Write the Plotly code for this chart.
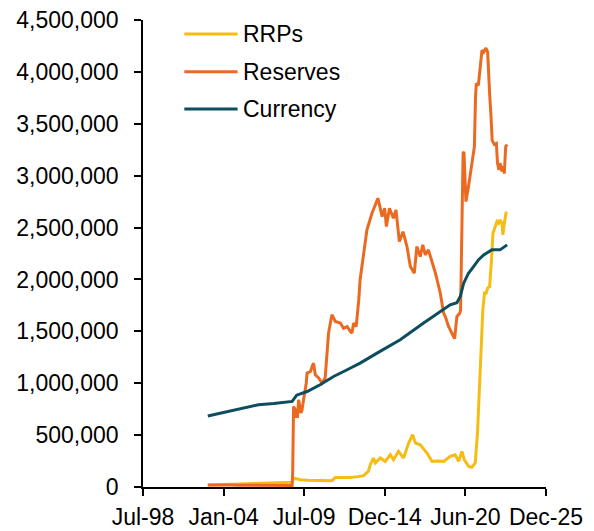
import plotly.graph_objects as go

# ---------------- data (millions of dollars) ----------------
rrp_dates = ["2002-12-18", "2003-06-18", "2004-06-16", "2005-06-15", "2006-06-14", "2007-06-13",
             "2008-06-11", "2008-09-10", "2008-10-15", "2008-12-17", "2009-04-01", "2009-10-07",
             "2010-02-24", "2010-09-15", "2011-05-25", "2011-08-17", "2012-03-07", "2012-08-15",
             "2013-03-06", "2013-07-17", "2013-11-13", "2014-01-01", "2014-03-19", "2014-05-07",
             "2014-09-03", "2015-01-07", "2015-05-13", "2015-07-29", "2015-12-02", "2016-04-06",
             "2016-08-10", "2016-11-16", "2017-01-25", "2017-05-24", "2017-11-08", "2018-03-14",
             "2018-07-11", "2018-12-26", "2019-06-05", "2019-10-09", "2020-01-01", "2020-03-25",
             "2020-05-20", "2020-09-09", "2020-11-25", "2021-02-17", "2021-04-14", "2021-07-14",
             "2021-08-25", "2021-10-06", "2021-11-17", "2021-12-22", "2022-02-09", "2022-03-23",
             "2022-05-04", "2022-06-29", "2022-08-10", "2022-09-21", "2022-10-26", "2022-12-14",
             "2023-01-04", "2023-02-08", "2023-03-29"]
rrp_values = [20000, 22000, 25000, 28000, 30000, 35000,
              42000, 45000, 87000, 80000, 70000, 66000,
              64000, 62000, 61000, 92000, 90000, 92000,
              100000, 109000, 150000, 215000, 279000, 231000,
              279000, 247000, 311000, 263000, 343000, 279000,
              424000, 504000, 424000, 407000, 327000, 247000,
              250000, 247000, 295000, 311000, 247000, 343000,
              263000, 198000, 189000, 231000, 520000, 1320000,
              1710000, 1870000, 1870000, 1920000, 1930000, 2160000,
              2446000, 2510000, 2557000, 2540000, 2574000, 2540000,
              2430000, 2540000, 2654000]

res_dates = ["2002-12-18", "2003-06-18", "2004-01-14", "2004-07-14", "2005-01-12", "2005-07-13",
             "2006-01-11", "2006-07-12", "2007-01-10", "2007-07-11", "2008-01-09", "2008-07-09",
             "2008-09-10", "2008-09-24", "2008-10-15", "2008-11-26", "2008-12-10", "2009-01-21",
             "2009-02-18", "2009-04-15", "2009-05-13", "2009-07-01", "2009-08-26", "2009-09-16",
             "2009-12-09", "2010-02-03", "2010-02-24", "2010-04-07", "2010-06-30", "2010-09-22",
             "2010-12-08", "2011-03-02", "2011-05-25", "2011-08-17", "2011-12-21", "2012-03-07",
             "2012-06-06", "2012-08-22", "2012-10-03", "2012-11-14", "2013-01-16", "2013-03-20",
             "2013-04-24", "2013-10-09", "2014-02-12", "2014-07-09", "2014-10-22", "2014-12-24",
             "2015-02-04", "2015-04-22", "2015-07-29", "2015-09-30", "2015-12-23", "2016-03-23",
             "2016-06-29", "2016-09-21", "2016-12-28", "2017-03-01", "2017-05-24", "2017-07-26",
             "2017-09-27", "2017-12-13", "2018-01-31", "2018-06-06", "2018-10-03", "2018-12-26",
             "2019-02-06", "2019-04-24", "2019-08-28", "2019-09-25", "2019-11-20", "2020-01-29",
             "2020-02-19", "2020-03-25", "2020-04-22", "2020-05-13", "2020-07-01", "2020-09-02",
             "2020-11-25", "2021-01-27", "2021-02-24", "2021-03-17", "2021-05-05", "2021-06-23",
             "2021-08-04", "2021-09-15", "2021-11-10", "2021-12-22", "2022-01-12", "2022-02-09",
             "2022-03-16", "2022-04-13", "2022-06-08", "2022-07-27", "2022-08-24", "2022-09-28",
             "2022-10-26", "2022-12-14", "2023-01-25", "2023-02-08", "2023-03-15", "2023-04-19"]
res_values = [20000, 22000, 18000, 20000, 18000, 17000,
              17000, 15000, 16000, 14000, 12000, 11000,
              15000, 150000, 776000, 744000, 680000, 680000,
              840000, 713000, 744000, 870000, 1000000, 1098000,
              1113000, 1178000, 1194000, 1081000, 1050000, 1000000,
              1050000, 1483000, 1660000, 1595000, 1580000, 1530000,
              1546000, 1500000, 1483000, 1580000, 1546000, 1800000,
              2000000, 2477000, 2638000, 2783000, 2606000, 2686000,
              2510000, 2686000, 2590000, 2670000, 2365000, 2460000,
              2317000, 2124000, 2060000, 2317000, 2220000, 2333000,
              2237000, 2285000, 2220000, 2060000, 1870000, 1675000,
              1643000, 1550000, 1450000, 1430000, 1643000, 1675000,
              1700000, 2600000, 3216000, 3230000, 2750000, 2894000,
              3135000, 3280000, 3760000, 3890000, 3870000, 4100000,
              4210000, 4190000, 4230000, 4190000, 3920000, 3790000,
              3570000, 3340000, 3300000, 3310000, 3120000, 3055000,
              3120000, 3040000, 3090000, 3020000, 3280000, 3300000]

cur_dates = ["2002-12-18", "2003-06-18", "2004-06-30", "2005-06-15", "2006-05-24", "2007-06-13",
             "2008-04-16", "2008-09-10", "2008-12-31", "2009-09-16", "2010-08-04", "2011-07-06",
             "2012-06-06", "2013-04-24", "2014-06-18", "2016-01-13", "2017-08-16", "2019-06-05",
             "2019-11-20", "2020-02-12", "2020-05-06", "2020-09-02", "2021-01-06", "2021-05-12",
             "2021-09-15", "2022-04-06", "2022-10-26", "2023-04-19"]
cur_values = [684000, 700000, 728000, 760000, 792000, 805000,
              815000, 825000, 885000, 920000, 985000, 1065000,
              1130000, 1194000, 1290000, 1418000, 1580000, 1755000,
              1775000, 1835000, 1964000, 2060000, 2124000, 2190000,
              2237000, 2285000, 2285000, 2333000]

series_names = ["RRPs", "Reserves", "Currency"]
x_tick_dates = ["1998-07-24", "2004-01-14", "2009-07-06", "2014-12-27", "2020-06-18", "2025-12-09"]
x_tick_labels = ["Jul-98", "Jan-04", "Jul-09", "Dec-14", "Jun-20", "Dec-25"]

# ---------------- styling ----------------
colors = ["#F5BD14", "#EB6A22", "#0C4D5E"]
FONT = "Arial, 'Liberation Sans', sans-serif"
FS = 23

fig = go.Figure()
for name, xs, ys, col in zip(series_names,
                             [rrp_dates, res_dates, cur_dates],
                             [rrp_values, res_values, cur_values], colors):
    fig.add_trace(go.Scatter(x=xs, y=ys, mode="lines", name=name,
                             line=dict(color=col, width=3), showlegend=False))

# manual legend (long line samples like the reference)
leg_y = [0.970, 0.8894, 0.8095]
for name, col, yy in zip(series_names, colors, leg_y):
    fig.add_shape(type="line", xref="paper", yref="paper", x0=0.1025, x1=0.2347,
                  y0=yy, y1=yy, line=dict(color=col, width=3))
    fig.add_annotation(xref="paper", yref="paper", x=0.243, y=yy, text=name,
                       showarrow=False, xanchor="left", yanchor="middle",
                       font=dict(family=FONT, size=FS, color="#000000"))

# page body has an 8px default margin; figure offset accordingly
fig.update_layout(
    width=586, height=523,
    margin=dict(l=135, r=48, t=12, b=44, autoexpand=False),
    paper_bgcolor="white", plot_bgcolor="white",
    font=dict(family=FONT, size=FS, color="#000000"),
    xaxis=dict(type="date", range=[x_tick_dates[0], x_tick_dates[-1]],
               tickmode="array", tickvals=x_tick_dates, ticktext=x_tick_labels,
               ticks="outside", ticklen=7, tickwidth=1.5, tickcolor="#000000",
               showline=True, linecolor="#000000", linewidth=1.5,
               showgrid=False, zeroline=False, ticklabelstandoff=2,
               automargin=False, ticklabeloverflow="allow",
               tickfont=dict(family=FONT, size=FS, color="#000000")),
    yaxis=dict(range=[0, 4500000], tickmode="linear", tick0=0, dtick=500000,
               tickformat=",", ticks="outside", ticklen=7, tickwidth=1.5,
               tickcolor="#000000", showline=True, linecolor="#000000", linewidth=1.5,
               showgrid=False, zeroline=False, ticklabelstandoff=11,
               automargin=False, ticklabeloverflow="allow",
               tickfont=dict(family=FONT, size=FS, color="#000000")),
)

fig.write_html("out.html")
